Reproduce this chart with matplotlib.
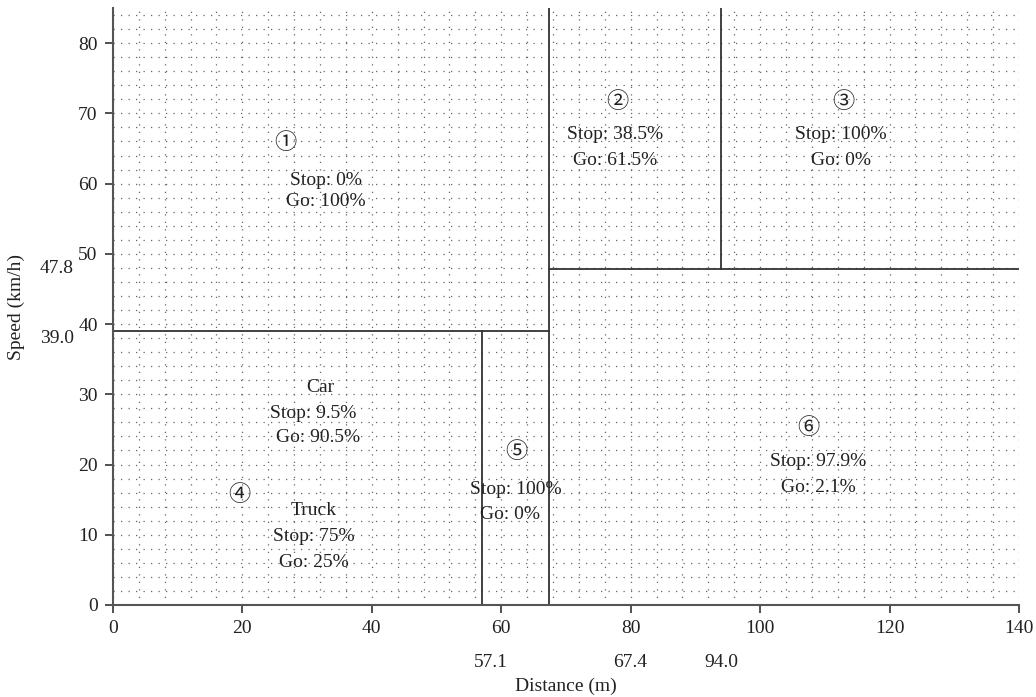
import numpy as np
import matplotlib
matplotlib.use('Agg')
import matplotlib.pyplot as plt
from matplotlib.ticker import MultipleLocator

plt.rcParams['font.family'] = ['Liberation Serif', 'DejaVu Sans']

# thresholds
x_thr = [57.1, 67.4, 94.0]
y_thr = [39.0, 47.8]
# where the threshold numbers sit under the x axis (they are spread apart)
x_thr_pos = [58.4, 79.9, 94.0]
y_thr_pos = [38.0, 47.9]

# region labels: text, x, y
labels = ['①', 'Stop: 0%', 'Go: 100%',
          '②', 'Stop: 38.5%', 'Go: 61.5%',
          '③', 'Stop: 100%', 'Go: 0%',
          'Car', 'Stop: 9.5%', 'Go: 90.5%',
          '④', 'Truck', 'Stop: 75%', 'Go: 25%',
          '⑤', 'Stop: 100%', 'Go: 0%',
          '⑥', 'Stop: 97.9%', 'Go: 2.1%']
label_x = [26.7, 32.9, 32.9,
           77.9, 77.6, 77.6,
           112.8, 112.5, 112.5,
           32.0, 31.0, 31.7,
           19.6, 31.1, 31.0, 31.1,
           62.3, 62.3, 61.4,
           107.4, 109.0, 109.0]
label_y = [65.9, 60.5, 57.5,
           71.7, 67.0, 63.3,
           71.7, 67.0, 63.3,
           30.9, 27.3, 23.8,
           15.8, 13.4, 9.7, 6.1,
           21.9, 16.5, 12.9,
           25.3, 20.5, 16.8]

fig = plt.figure(figsize=(10.36, 6.97), dpi=100)
ax = fig.add_axes([0.109, 0.132, 0.8746, 0.8565])

ax.set_xlim(0, 140)
ax.set_ylim(0, 85)
ax.xaxis.set_major_locator(MultipleLocator(20))
ax.yaxis.set_major_locator(MultipleLocator(10))
ax.xaxis.set_minor_locator(MultipleLocator(4))
ax.yaxis.set_minor_locator(MultipleLocator(2))
ax.tick_params(which='minor', length=0)
ax.tick_params(which='major', length=6, width=1.2, color='#333333',
               labelsize=14, labelcolor='#222222', pad=5)
ax.grid(which='both', color='#666666', linestyle=(0, (1, 5)), linewidth=0.9)
ax.set_axisbelow(True)

for s in ['top', 'right']:
    ax.spines[s].set_visible(False)
for s in ['left', 'bottom']:
    ax.spines[s].set_color('#555555')
    ax.spines[s].set_linewidth(1.5)

lc = '#333333'
lw = 1.3
ax.plot([x_thr[1], x_thr[1]], [0, 85], color=lc, lw=lw)
ax.plot([0, x_thr[1]], [y_thr[0], y_thr[0]], color=lc, lw=lw)
ax.plot([x_thr[0], x_thr[0]], [0, y_thr[0]], color=lc, lw=lw)
ax.plot([x_thr[1], 140], [y_thr[1], y_thr[1]], color=lc, lw=lw)
ax.plot([x_thr[2], x_thr[2]], [y_thr[1], 85], color=lc, lw=lw)

for t, x, y in zip(labels, label_x, label_y):
    if t in '①②③④⑤⑥':
        ax.text(x, y, t, ha='center', va='center', fontsize=16, color='#222222',
                family=['Noto Sans CJK JP', 'DejaVu Sans'])
    else:
        ax.text(x, y, t, ha='center', va='center', fontsize=14, color='#222222')

# threshold values outside the axes
trans_y = ax.get_yaxis_transform()
for v, p in zip(y_thr, y_thr_pos):
    ax.text(-0.043, p, f'{v:.1f}', transform=trans_y, ha='right', va='center',
            fontsize=14, color='#222222')
trans_x = ax.get_xaxis_transform()
for v, p in zip(x_thr, x_thr_pos):
    ax.text(p, -0.096, f'{v:.1f}', transform=trans_x, ha='center', va='center',
            fontsize=14, color='#222222')

ax.set_xlabel('Distance (m)', fontsize=14, color='#222222', labelpad=29)
ax.set_ylabel('Speed (km/h)', fontsize=14, color='#222222', labelpad=38)

fig.savefig('out.png', dpi=100)
